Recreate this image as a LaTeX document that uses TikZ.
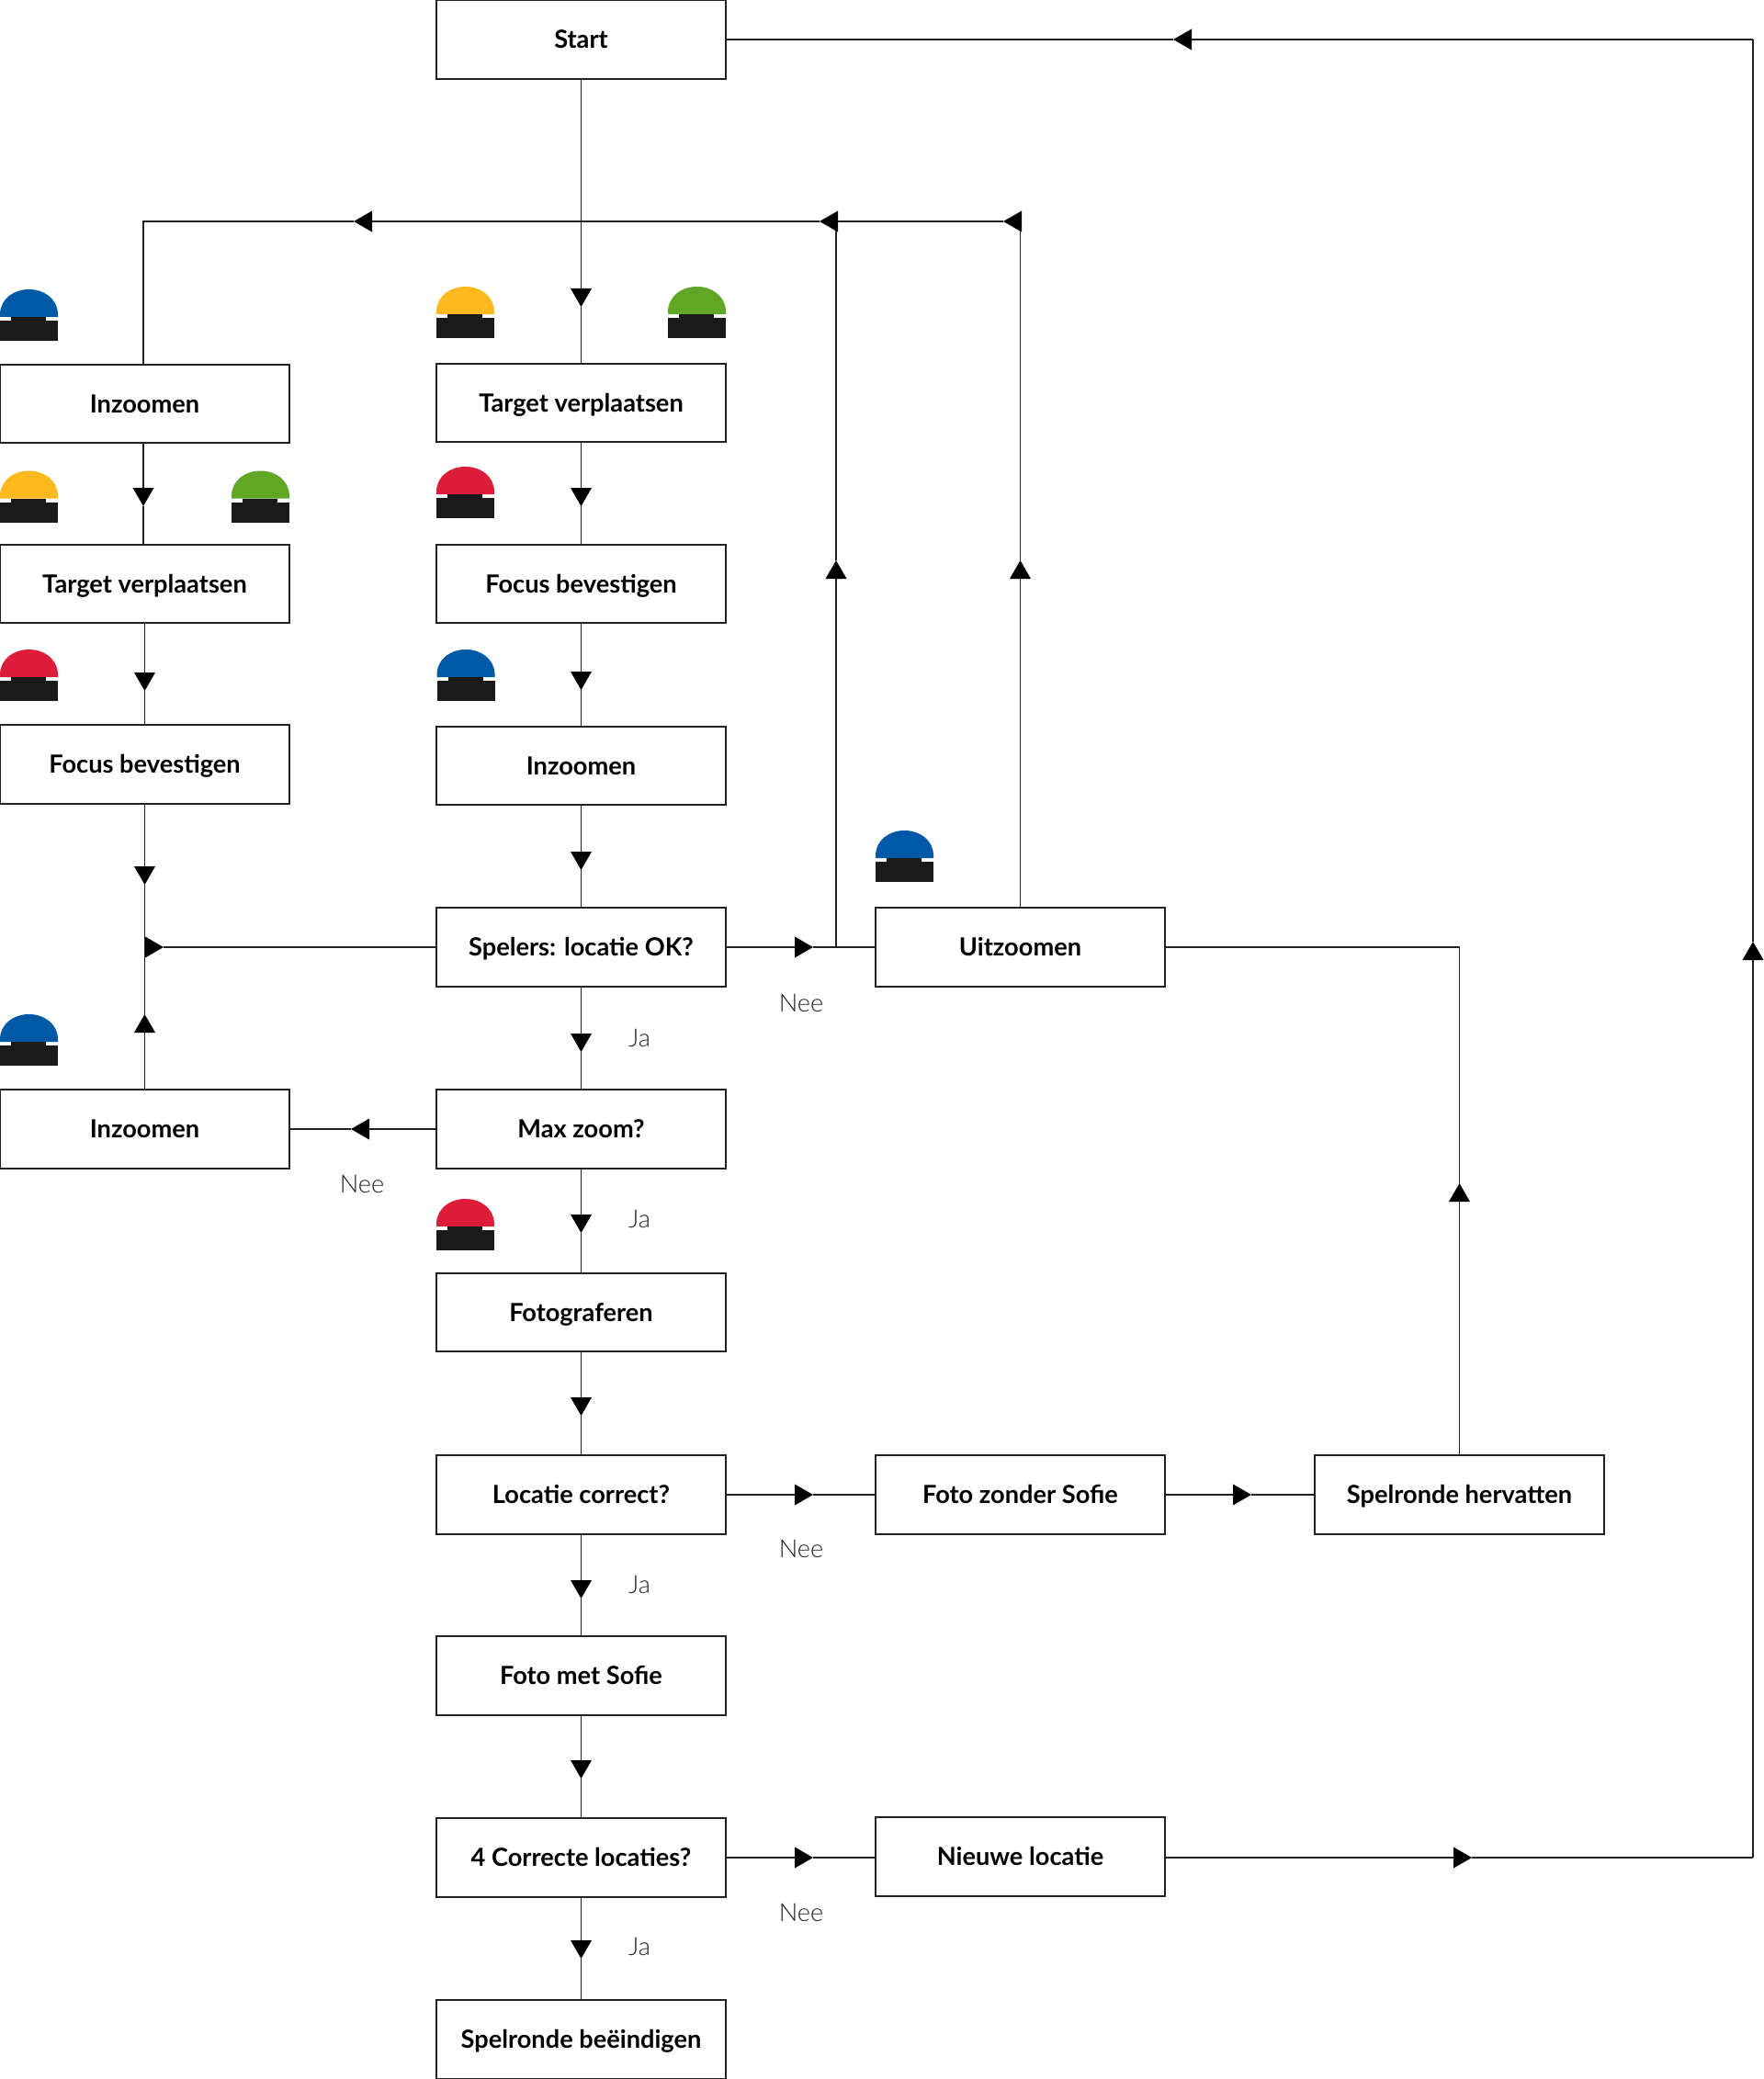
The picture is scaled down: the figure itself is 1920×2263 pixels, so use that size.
\documentclass[tikz,border=0pt]{standalone}
\usepackage{fontspec}
\setmainfont{Lato}
\newfontfamily\lightfont{Lato Light}
\usetikzlibrary{arrows.meta,calc}
\definecolor{ink}{HTML}{222222}
\definecolor{btnblack}{HTML}{1A1A1A}
\definecolor{btnyellow}{HTML}{FDB91E}
\definecolor{btngreen}{HTML}{62A625}
\definecolor{btnred}{HTML}{DC1C38}
\definecolor{btnblue}{HTML}{0059A6}
\tikzset{
  x=0.5pt,y=-0.5pt,
  flow/.style={draw=ink,line width=0.85pt,line join=miter},
  headed/.style={flow,-{Triangle[width=11.3pt,length=10pt,fill=black,color=black]}},
  stepbox/.style={draw=ink,line width=0.85pt,fill=white,minimum width=157.5pt,minimum height=42.75pt,
    inner sep=0pt,outer sep=0pt,font=\fontsize{13.6}{16}\selectfont\bfseries,text=black,text height=9.5pt,text depth=0pt},
  lbl/.style={font=\fontsize{13.6}{16}\lightfont,text=ink,inner sep=0pt},
  button/.pic={
    \fill[fill=#1] (0,30) -- (0,26) .. controls (1,10) and (15,0) .. (31.5,0) .. controls (48,0) and (62,10) .. (63,26) -- (63,30) -- cycle;
    \fill[btnblack] (12,30) rectangle (50,34);
    \fill[btnblack] (0,34) rectangle (63,56);
  }
}
\begin{document}
\begin{tikzpicture}
\useasboundingbox[fill=white] (0,0) rectangle (1920,2263);
% boxes, centre column
\node[stepbox] (start) at (632.5,43) {Start};
\node[stepbox] (ctarget) at (632.5,438.5) {Target verplaatsen};
\node[stepbox] (cfocus) at (632.5,635.5) {Focus bevestigen};
\node[stepbox] (czoom) at (632.5,833.5) {Inzoomen};
\node[stepbox] (spelers) at (632.5,1031) {Spelers: locatie OK?};
\node[stepbox] (maxzoom) at (632.5,1229) {Max zoom?};
\node[stepbox] (foto) at (632.5,1428.5) {Fotograferen};
\node[stepbox] (locatie) at (632.5,1627) {Locatie correct?};
\node[stepbox] (metsofie) at (632.5,1824) {Foto met Sofie};
\node[stepbox] (correct) at (632.5,2022) {4 Correcte locaties?};
\node[stepbox] (einde) at (632.5,2220) {Spelronde beëindigen};
% left column
\node[stepbox] (lzoom) at (157.5,439.5) {Inzoomen};
\node[stepbox] (ltarget) at (157.5,635.5) {Target verplaatsen};
\node[stepbox] (lfocus) at (157.5,832) {Focus bevestigen};
\node[stepbox] (lzoomb) at (157.5,1229) {Inzoomen};
% right columns
\node[stepbox] (uit) at (1110.5,1031) {Uitzoomen};
\node[stepbox] (zonder) at (1110.5,1627) {Foto zonder Sofie};
\node[stepbox] (nieuw) at (1110.5,2021) {Nieuwe locatie};
\node[stepbox] (hervat) at (1588.5,1627) {Spelronde hervatten};
% vertical centre connectors
\foreach \a/\b/\tip in {start/ctarget/334,ctarget/cfocus/551,cfocus/czoom/751,czoom/spelers/947,spelers/maxzoom/1145,maxzoom/foto/1342,foto/locatie/1541,locatie/metsofie/1740,metsofie/correct/1936,correct/einde/2132}{
  \coordinate (tip\a) at (632.5,\tip);
  \draw[headed] (\a.south) -- (tip\a);
  \draw[flow] (tip\a) -- (\b.north);
}
% left column connectors
\coordinate (lxa) at (156,0);
\coordinate (lta) at (156,551);
\draw[headed] (lzoom.south -| lxa) -- (lta);
\draw[flow] (lta) -- (ltarget.north -| lxa);
\coordinate (ltb) at (157.5,752);
\draw[headed] (ltarget.south) -- (ltb);
\draw[flow] (ltb) -- (lfocus.north);
\coordinate (ltc) at (157.5,963);
\coordinate (ltd) at (157.5,1104);
\coordinate (ljoin) at (157.5,1031);
\draw[headed] (lfocus.south) -- (ltc);
\draw[flow] (ltc) -- (ljoin);
\draw[headed] (lzoomb.north) -- (ltd);
\draw[flow] (ltd) -- (ljoin);
\coordinate (lte) at (178,1031);
\draw[flow] (spelers.west) -- (lte);
\draw[headed] (ljoin) -- (lte);
\coordinate (ltf) at (382,1229);
\draw[headed] (maxzoom.west) -- (ltf);
\draw[flow] (ltf) -- (lzoomb.east);
% loop back lines along the top
\coordinate (ja) at (910,1031);
\coordinate (tj) at (910,610);
\coordinate (ca) at (910,241);
\coordinate (tb) at (892,241);
\coordinate (tc) at (1092,241);
\coordinate (cb) at (1110.5,241);
\coordinate (td) at (1110.5,610);
\coordinate (te) at (385,241);
\coordinate (cc) at (156,241);
\coordinate (tf) at (885,1031);
\draw[headed] (spelers.east) -- (tf);
\draw[flow] (tf) -- (uit.west);
\draw[headed] (ja) -- (tj);
\draw[flow] (tj) -- (ca);
\draw[headed] (uit.north) -- (td);
\draw[flow] (td) -- (cb);
\draw[headed] (cb) -- (tc);
\draw[flow] (tc) -- (ca);
\draw[headed] (ca) -- (tb);
\draw[flow] (tb) -- (632.5,241);
\draw[headed] (632.5,241) -- (te);
\draw[flow] (te) -- (cc) -- (lzoom.north -| lxa);
% right side
\coordinate (tg) at (885,1627);
\draw[headed] (locatie.east) -- (tg);
\draw[flow] (tg) -- (zonder.west);
\coordinate (th) at (1362,1627);
\draw[headed] (zonder.east) -- (th);
\draw[flow] (th) -- (hervat.west);
\coordinate (ti) at (1588.5,1288);
\coordinate (cd) at (1588.5,1031);
\draw[headed] (hervat.north) -- (ti);
\draw[flow] (ti) -- (cd) -- (uit.east);
\coordinate (tk) at (885,2022);
\draw[headed] (correct.east) -- (tk);
\draw[flow] (tk) -- (nieuw.west |- tk);
\coordinate (tl) at (1602,2022);
\coordinate (ce) at (1908,2022);
\coordinate (tm) at (1908,1025);
\coordinate (cf) at (1908,43);
\coordinate (tn) at (1277,43);
\draw[headed] (nieuw.east |- tl) -- (tl);
\draw[flow] (tl) -- (ce);
\draw[headed] (ce) -- (tm);
\draw[flow] (tm) -- (cf);
\draw[headed] (cf) -- (tn);
\draw[flow] (tn) -- (start.east);
% labels
\node[lbl] (ja1) at (696,1130) {Ja};
\node[lbl] (ja2) at (696,1327) {Ja};
\node[lbl] (ja3) at (696,1725) {Ja};
\node[lbl] (ja4) at (696,2119) {Ja};
\node[lbl] (nee1) at (872,1092) {Nee};
\node[lbl] (nee2) at (394,1289) {Nee};
\node[lbl] (nee3) at (872,1686) {Nee};
\node[lbl] (nee4) at (872,2082) {Nee};
% buttons
\pic at (0,315) {button=btnblue};
\pic at (475,312) {button=btnyellow};
\pic at (727,312) {button=btngreen};
\pic at (0,512.5) {button=btnyellow};
\pic at (252,512.5) {button=btngreen};
\pic at (475,508) {button=btnred};
\pic at (0,707) {button=btnred};
\pic at (475.5,707) {button=btnblue};
\pic at (953,904) {button=btnblue};
\pic at (0,1104) {button=btnblue};
\pic at (475,1305) {button=btnred};
\end{tikzpicture}
\end{document}
